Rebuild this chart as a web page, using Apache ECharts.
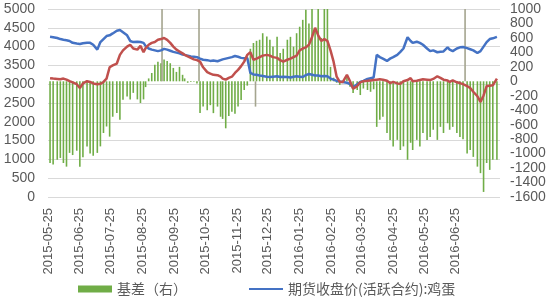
<!DOCTYPE html>
<html><head><meta charset="utf-8">
<script src="https://cdn.jsdelivr.net/npm/echarts@6/dist/echarts.min.js"></script>
<style>html,body{margin:0;padding:0;background:#fff}#c{width:550px;height:300px}</style>
</head><body><div id="c"></div><script>
const startDate = '2015-05-25';
const endDate = '2016-08-07';
const tickLabels = ['2015-05-25','2015-06-25','2015-07-25','2015-08-25','2015-09-25','2015-10-25','2015-11-25','2015-12-25','2016-01-25','2016-02-25','2016-03-25','2016-04-25','2016-05-25','2016-06-25'];
const dates = ['2015-05-27','2015-05-30','2015-06-03','2015-06-06','2015-06-09','2015-06-12','2015-06-15','2015-06-18','2015-06-22','2015-06-25',
'2015-06-28','2015-07-02','2015-07-05','2015-07-08','2015-07-12','2015-07-15','2015-07-18','2015-07-21','2015-07-24','2015-07-27',
'2015-07-31','2015-08-03','2015-08-06','2015-08-10','2015-08-13','2015-08-16','2015-08-20','2015-08-23','2015-08-26','2015-08-28',
'2015-08-31','2015-09-03','2015-09-06','2015-09-09','2015-09-12','2015-09-15','2015-09-18','2015-09-21','2015-09-24','2015-09-27',
'2015-09-30','2015-10-03','2015-10-05','2015-10-08','2015-10-11','2015-10-14','2015-10-17','2015-10-20','2015-10-23','2015-10-27',
'2015-10-30','2015-11-02','2015-11-06','2015-11-09','2015-11-11','2015-11-14','2015-11-17','2015-11-20','2015-11-23','2015-11-26',
'2015-11-29','2015-12-02','2015-12-05','2015-12-08','2015-12-11','2015-12-14','2015-12-17','2015-12-20','2015-12-24','2015-12-27',
'2015-12-30','2016-01-03','2016-01-06','2016-01-09','2016-01-13','2016-01-16','2016-01-19','2016-01-22','2016-01-25','2016-01-28',
'2016-01-31','2016-02-03','2016-02-06','2016-02-09','2016-02-12','2016-02-15','2016-02-18','2016-02-21','2016-02-24','2016-02-27',
'2016-03-01','2016-03-04','2016-03-07','2016-03-11','2016-03-14','2016-03-17','2016-03-21','2016-03-24','2016-03-27','2016-03-31',
'2016-04-03','2016-04-06','2016-04-09','2016-04-12','2016-04-15','2016-04-19','2016-04-22','2016-04-25','2016-04-29','2016-05-02',
'2016-05-05','2016-05-09','2016-05-12','2016-05-14','2016-05-18','2016-05-21','2016-05-24','2016-05-28','2016-05-31','2016-06-03',
'2016-06-07','2016-06-10','2016-06-13','2016-06-17','2016-06-19','2016-06-22','2016-06-26','2016-06-29','2016-07-02','2016-07-06',
'2016-07-09','2016-07-12','2016-07-16','2016-07-19','2016-07-22','2016-07-25','2016-07-28','2016-07-31','2016-08-04'];
const futures = [4260,4250,4230,4200,4180,4170,4150,4100,4080,4070,
4090,4100,4100,4050,3920,4120,4200,4280,4300,4350,
4420,4440,4380,4300,4150,4120,4130,4120,4100,4020,
3950,3920,3900,3880,3900,3940,3920,3890,3860,3840,
3820,3790,3780,3760,3740,3730,3720,3680,3650,3640,
3620,3630,3610,3640,3660,3680,3700,3720,3750,3730,
3700,3690,3700,3300,3260,3250,3230,3220,3200,3190,
3200,3210,3190,3200,3190,3180,3200,3210,3200,3190,
3240,3270,3250,3230,3230,3210,3220,3210,3150,3120,
3090,3070,3060,3040,3000,2920,3000,3060,3090,3140,
3160,3180,3780,3720,3680,3620,3680,3720,3780,3860,
3950,4250,4150,4100,4130,4100,4050,3950,3880,3900,
3850,3860,3870,3980,3920,3880,3950,3980,3990,3960,
3930,3900,3830,3880,4000,4120,4200,4220,4260];
const spot = [3160,3150,3140,3130,3150,3120,3080,3050,3000,2900,
3020,3080,3060,3020,3000,3010,3060,3150,3450,3500,
3550,3780,3900,4000,4050,3950,3920,4020,3850,3960,
4050,4100,4120,4180,4200,4230,4180,4100,4000,3920,
3870,3820,3780,3740,3700,3660,3640,3600,3450,3320,
3280,3250,3240,3200,3150,3120,3170,3200,3300,3380,
3480,3600,3780,3850,3650,3680,3720,3760,3780,3760,
3720,3700,3640,3600,3650,3680,3720,3760,3900,3950,
3980,4050,4250,4500,4300,4150,4200,4150,3900,3600,
3200,3060,3060,3250,3080,2880,2950,3050,3080,3090,
3100,3110,3120,3130,3120,3090,3030,3060,3020,3010,
3080,3110,3160,3080,3090,3110,3130,3120,3110,3140,
3210,3170,3120,3100,3060,3100,3050,3030,3000,2950,
2900,2800,2680,2530,2700,2950,2960,2970,3150];
const basis = [-1130,-1150,-1085,-1060,-1130,-1180,-990,-1020,-960,-1180,
-1050,-900,-1000,-1030,-990,-900,-715,-625,-765,-490,
-440,-530,-255,-210,-250,-160,-250,-300,-250,-80,
40,115,230,270,250,300,280,250,185,130,
200,90,40,-20,-10,-5,-30,-440,-350,-400,
-330,-440,-350,-490,-520,-650,-480,-420,-450,-350,
-260,-120,-60,450,530,560,575,665,620,575,
480,615,390,450,575,615,480,665,755,850,
990,800,1000,700,1000,600,1000,1000,200,50,
-20,-50,-20,60,-75,-160,-120,-190,-100,-120,
-145,-110,-630,-530,-490,-715,-810,-900,-810,-950,
-900,-1085,-850,-950,-810,-900,-715,-810,-770,-670,
-810,-630,-715,-580,-670,-630,-715,-770,-800,-1000,
-950,-1045,-1180,-1270,-1530,-1130,-1225,-1085,-1085];
const spikeDates = ['2015-09-13','2015-10-19','2015-12-13','2016-07-04'];
const spikeValues = [1000,1000,-350,1000];

const cats = [];
for (let t = Date.parse(startDate + 'T00:00:00Z'); t <= Date.parse(endDate + 'T00:00:00Z'); t += 86400000) {
  cats.push(new Date(t).toISOString().slice(0, 10));
}
const pos = {};
cats.forEach((c, i) => pos[c] = i);
function fill(ds, vs) {
  const a = new Array(cats.length).fill(null);
  ds.forEach((d, i) => { a[pos[d]] = vs[i]; });
  return a;
}

const txt = '#595959';
const chart = echarts.init(document.getElementById('c'), null, {renderer: 'canvas'});
chart.setOption({
  animation: false,
  backgroundColor: '#fff',
  grid: {left: 48, right: 50, top: 9, bottom: 103, containLabel: false},
  legend: {
    left: 73, top: 277, itemGap: 62, itemWidth: 34, itemHeight: 7,
    data: [
      {name: '基差（右）', icon: 'rect'},
      {name: '期货收盘价(活跃合约):鸡蛋', icon: 'path://M0,0H34V2.2H0Z'}
    ],
    textStyle: {color: txt, fontSize: 14, fontFamily: 'Noto Sans CJK SC'}
  },
  xAxis: {
    type: 'category', data: cats, boundaryGap: false,
    axisLine: {show: false}, axisTick: {show: false},
    axisLabel: {
      rotate: 90, color: txt, fontSize: 13, fontFamily: 'Liberation Sans', margin: 11,
      interval: (i, v) => tickLabels.indexOf(v) >= 0
    }
  },
  yAxis: [
    {type: 'value', min: 0, max: 5000, interval: 500,
     axisLine: {show: false}, axisTick: {show: false},
     axisLabel: {color: txt, fontSize: 14, fontFamily: 'Liberation Sans', margin: 13, formatter: v => String(v)},
     splitLine: {lineStyle: {color: '#D9D9D9', width: 1}}},
    {type: 'value', min: -1600, max: 1000, interval: 200, position: 'right',
     axisLine: {show: false}, axisTick: {show: false},
     axisLabel: {color: txt, fontSize: 14, fontFamily: 'Liberation Sans', margin: 10, formatter: v => String(v)},
     splitLine: {show: false}}
  ],
  series: [
    {name: '基差（右）', type: 'bar', yAxisIndex: 1, data: fill(dates, basis),
     barWidth: 1.6, barGap: '-100%', itemStyle: {color: '#70AD47'}},
    {name: 'spike', type: 'bar', yAxisIndex: 1, data: fill(spikeDates, spikeValues),
     barWidth: 1.6, barGap: '-100%', itemStyle: {color: '#A5A58F'}},
    {name: '期货收盘价(活跃合约):鸡蛋', type: 'line', yAxisIndex: 0, data: fill(dates, futures),
     connectNulls: true, showSymbol: false, symbol: 'none',
     lineStyle: {color: '#4472C4', width: 2.5}, itemStyle: {color: '#4472C4'}},
    {name: '现货价', type: 'line', yAxisIndex: 0, data: fill(dates, spot),
     connectNulls: true, showSymbol: false, symbol: 'none',
     lineStyle: {color: '#C0504D', width: 2.5}, itemStyle: {color: '#C0504D'}}
  ]
});
</script></body></html>
